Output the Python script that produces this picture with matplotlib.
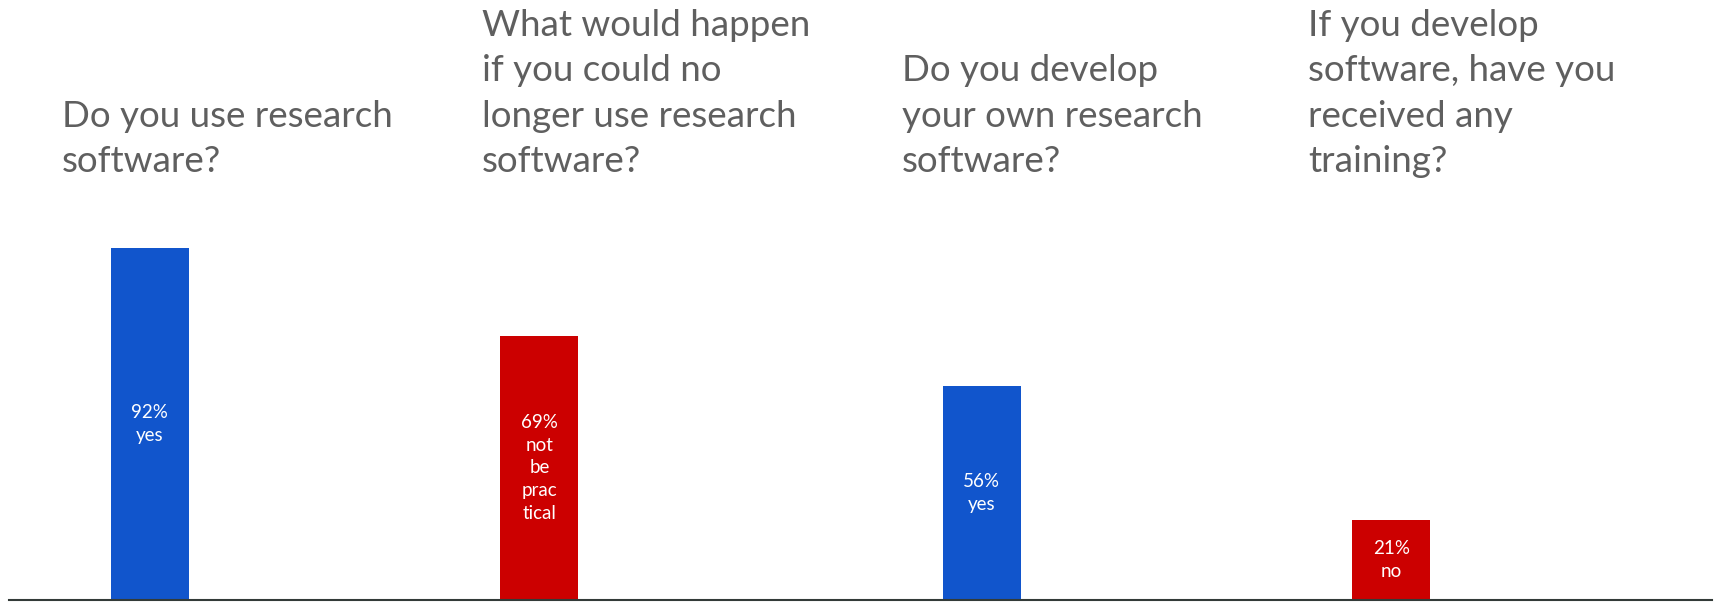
import matplotlib
matplotlib.use("Agg")
from matplotlib import pyplot as plt

# survey answers, one bar per question
questions = [
    "Do you use research\nsoftware?",
    "What would happen\nif you could no\nlonger use research\nsoftware?",
    "Do you develop\nyour own research\nsoftware?",
    "If you develop\nsoftware, have you\nreceived any\ntraining?",
]
percents = [92, 69, 56, 21]
answers = ["yes", "not\nbe\nprac\ntical", "yes", "no"]

# layout (x in pixel-like units across the figure)
bar_x = [149.5, 539.4, 981.7, 1391.2]
title_x = [62.0, 482.0, 901.5, 1308.0]
bar_width = 78
colors = ["#1155CC", "#CC0000", "#1155CC", "#CC0000"]

plt.rcParams['font.family'] = ['Lato', 'DejaVu Sans']

W, H = 1717, 602
fig = plt.figure(figsize=(W / 100, H / 100), dpi=100)
ax = fig.add_axes([0, 2 / H, 1, 383 / H])
ax.set_xlim(0, W)
ax.set_ylim(0, 100)
ax.axis("off")

bars = ax.bar(bar_x, percents, width=bar_width, color=colors)
for b, p, a in zip(bars, percents, answers):
    ax.text(b.get_x() + b.get_width() / 2, p / 2, f"{p}%\n{a}",
            ha="center", va="center", color="white", fontsize=13.5,
            linespacing=1.4)

ax.axhline(0, xmin=9 / W, xmax=1712 / W, color="#333b38", lw=1.5,
           clip_on=False)

for x, q in zip(title_x, questions):
    fig.text(x / W, 1 - 178 / H, q, ha="left", va="bottom", fontsize=26.5,
             color="#5f5f5f", linespacing=1.46)

fig.savefig("out.png", dpi=100)
